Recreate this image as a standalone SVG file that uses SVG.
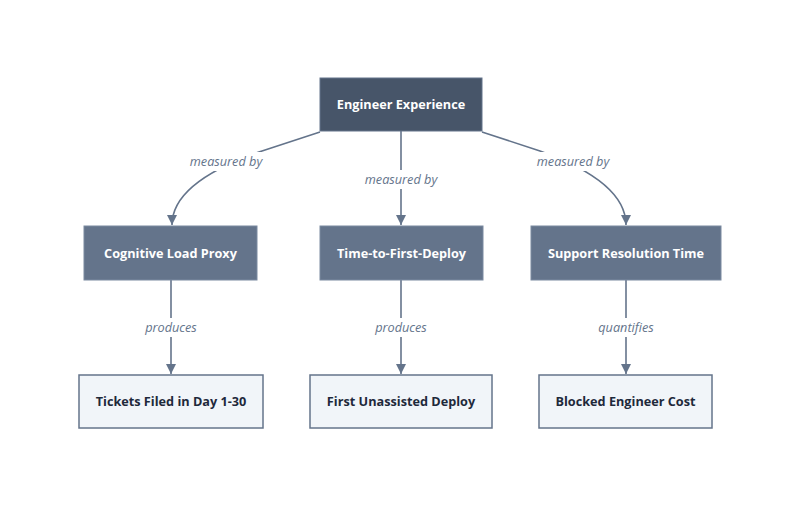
<svg xmlns="http://www.w3.org/2000/svg" width="800" height="507" viewBox="0 0 800 507">
<defs>
<style>
.edge{fill:none;stroke:#64748b;stroke-width:1.6}
.lbl{font-family:"Open Sans","DejaVu Sans",sans-serif;font-size:12.7px;font-style:italic;fill:#64748b;text-anchor:middle}
.lblbg{fill:#ffffff}
.dark{fill:#475569;stroke:#64748b;stroke-width:1}
.mid{fill:#64748b;stroke:#7b8aa0;stroke-width:1}
.light{fill:#f1f5f9;stroke:#64748b;stroke-width:1.5}
.wt{font-family:"Open Sans","DejaVu Sans",sans-serif;font-size:12.7px;font-weight:bold;fill:#ffffff;text-anchor:middle}
.dt{font-family:"Open Sans","DejaVu Sans",sans-serif;font-size:12.7px;font-weight:bold;fill:#1e293b;text-anchor:middle}
</style>
<marker id="arr" viewBox="0 0 10 10" refX="10" refY="5" markerWidth="10" markerHeight="10" markerUnits="userSpaceOnUse" orient="auto">
<path d="M0,0 L10,5 L0,10 z" fill="#64748b"/>
</marker>
</defs>
<rect width="800" height="507" fill="#ffffff"/>
<g id="connectors">
<path class="edge" d="M320,132 L262,151 Q172,182 172,225" marker-end="url(#arr)"/>
<path class="edge" d="M401,131 L401,225" marker-end="url(#arr)"/>
<path class="edge" d="M482,132 L540,151 Q626,182 626,225" marker-end="url(#arr)"/>
<path class="edge" d="M171,280 L171,374" marker-end="url(#arr)"/>
<path class="edge" d="M401,280 L401,374" marker-end="url(#arr)"/>
<path class="edge" d="M626,280 L626,374" marker-end="url(#arr)"/>
<rect class="lblbg" x="189" y="152" width="75" height="19"/>
<text class="lbl" x="226" y="166">measured by</text>
<rect class="lblbg" x="364" y="170" width="75" height="19"/>
<text class="lbl" x="401" y="184">measured by</text>
<rect class="lblbg" x="536" y="152" width="75" height="19"/>
<text class="lbl" x="573" y="166">measured by</text>
<rect class="lblbg" x="143" y="318" width="56" height="19"/>
<text class="lbl" x="171" y="332">produces</text>
<rect class="lblbg" x="373" y="318" width="56" height="19"/>
<text class="lbl" x="401" y="332">produces</text>
<rect class="lblbg" x="596" y="318" width="60" height="19"/>
<text class="lbl" x="626" y="332">quantifies</text>
</g>
<g id="engineer-experience">
<rect class="dark" x="320" y="78" width="162" height="53"/>
<text class="wt" x="401" y="109">Engineer Experience</text>
</g>
<g id="cognitive-load-proxy">
<rect class="mid" x="84" y="226" width="173" height="54"/>
<text class="wt" x="170.5" y="257.5">Cognitive Load Proxy</text>
</g>
<g id="time-to-first-deploy">
<rect class="mid" x="320" y="226" width="163" height="54"/>
<text class="wt" x="401.5" y="257.5">Time-to-First-Deploy</text>
</g>
<g id="support-resolution-time">
<rect class="mid" x="531" y="226" width="190" height="54"/>
<text class="wt" x="626" y="257.5">Support Resolution Time</text>
</g>
<g id="tickets-filed">
<rect class="light" x="79" y="375" width="184" height="53"/>
<text class="dt" x="171" y="406">Tickets Filed in Day 1-30</text>
</g>
<g id="first-unassisted-deploy">
<rect class="light" x="310" y="375" width="182" height="53"/>
<text class="dt" x="401" y="406">First Unassisted Deploy</text>
</g>
<g id="blocked-engineer-cost">
<rect class="light" x="539" y="375" width="173" height="53"/>
<text class="dt" x="625.5" y="406">Blocked Engineer Cost</text>
</g>
</svg>
